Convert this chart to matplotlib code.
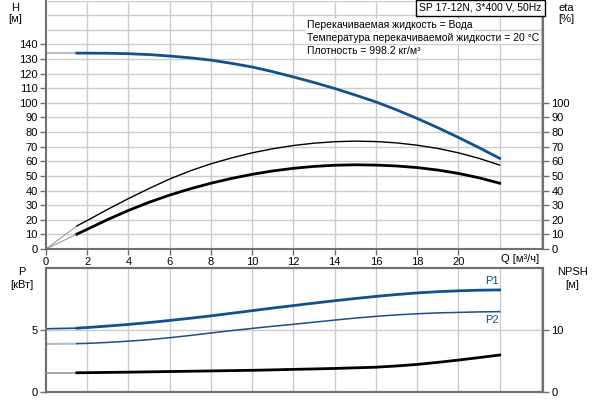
import matplotlib
matplotlib.use("Agg")
import matplotlib.pyplot as plt

plt.rcParams['font.family'] = ['Liberation Sans', 'DejaVu Sans']
plt.rcParams['font.size'] = 8

# ---- data ----
q = [1.5, 2, 3, 4, 5, 6, 7, 8, 9, 10, 11, 12, 13, 14, 15, 16, 17, 18, 19, 20, 21, 22]
q_ext = [0, 1.5]

head = [134, 134, 133.9, 133.6, 133, 132, 130.8, 129.2, 127, 124.5, 121.3, 117.7,
        113.9, 109.8, 105.3, 100.6, 95.2, 89.3, 83, 76.3, 69.3, 62]
head_ext = [134, 134]

eta_pump = [15.8, 19.5, 27.2, 34.5, 41.4, 47.9, 53.5, 58.3, 62.3, 65.8, 68.6, 70.8,
            72.4, 73.4, 73.8, 73.5, 72.6, 71, 68.8, 65.8, 62, 57.4]
eta_pump_ext = [0, 15.8]

eta_total = [10.2, 13.5, 20.2, 26.4, 32, 36.9, 41.2, 45, 48.3, 51.1, 53.4, 55.2, 56.5,
             57.3, 57.6, 57.4, 56.8, 55.7, 54, 51.7, 48.7, 45]
eta_total_ext = [0, 10.2]

p1 = [5.15, 5.2, 5.32, 5.45, 5.6, 5.77, 5.95, 6.14, 6.35, 6.56, 6.77, 6.97, 7.17, 7.36,
      7.54, 7.71, 7.86, 7.99, 8.09, 8.16, 8.21, 8.23]
p1_ext = [5.1, 5.15]

p2 = [3.9, 3.92, 4.0, 4.1, 4.22, 4.38, 4.56, 4.76, 4.95, 5.13, 5.3, 5.46, 5.63, 5.8,
      5.96, 6.1, 6.22, 6.31, 6.38, 6.42, 6.46, 6.48]
p2_ext = [3.87, 3.9]

npsh = [3.1, 3.12, 3.16, 3.2, 3.25, 3.3, 3.35, 3.4, 3.45, 3.5, 3.57, 3.65, 3.72, 3.8,
        3.9, 4.0, 4.2, 4.45, 4.78, 5.15, 5.55, 5.97]
npsh_ext = [3.1, 3.1]

x_ticks = [0, 2, 4, 6, 8, 10, 12, 14, 16, 18, 20]
x_grid = [2, 4, 6, 8, 10, 12, 14, 16, 18, 20, 22, 24]
h_ticks = [0, 10, 20, 30, 40, 50, 60, 70, 80, 90, 100, 110, 120, 130, 140]
h_grid = [10, 20, 30, 40, 50, 60, 70, 80, 90, 100, 110, 120, 130, 140, 150, 160, 170]
eta_ticks = [0, 10, 20, 30, 40, 50, 60, 70, 80, 90, 100]
p_ticks = [0, 5]
p_grid = [5]
npsh_ticks = [0, 10]

title_text = "SP 17-12N, 3*400 V, 50Hz"
info_lines = ["Перекачиваемая жидкость = Вода",
              "Температура перекачиваемой жидкости = 20 °C",
              "Плотность = 998.2 кг/м³"]

BLUE = '#14508c'
EXT = '#b4bccb'
GRID = '#cccccc'
SPINE = '#707070'

W, H = 600, 400
fig = plt.figure(figsize=(6, 4), dpi=100, facecolor='white')

def fx(px):
    return px / W

def fy(py):
    return 1 - py / H

XL, XR = 46, 543
XMAX = 24.1
HMAX = 170

# ---------- top axes ----------
ax = fig.add_axes([fx(XL), fy(249), fx(XR - XL), (249 - 0.5) / H])
for v in x_grid:
    ax.plot([v, v], [0.3, HMAX], color=GRID, lw=1.0, zorder=2.5, solid_capstyle='butt')
for v in h_grid:
    ax.plot([0.05, XMAX - 0.05], [v, v], color=GRID, lw=1.0, zorder=2.5,
            solid_capstyle='butt')

ax.plot(q_ext, head_ext, color=EXT, lw=1.5, zorder=3)
ax.plot(q, head, color=BLUE, lw=2, zorder=4)
ax.plot(q_ext, eta_pump_ext, color='#999999', lw=0.8, zorder=3)
ax.plot(q, eta_pump, color='black', lw=1.0, zorder=4)
ax.plot(q_ext, eta_total_ext, color='#999999', lw=0.8, zorder=3)
ax.plot(q, eta_total, color='black', lw=2.0, zorder=4)
ax.set_xlim(0, XMAX)
ax.set_ylim(0, HMAX)
ax.set_xticks(x_ticks)
ax.set_yticks(h_ticks)
ax.tick_params(axis='both', direction='out', length=4, width=1,
               color=SPINE, pad=2, labelsize=8)

ax.spines['top'].set_visible(False)
for s in ['left', 'bottom', 'right']:
    ax.spines[s].set_color(SPINE)
    ax.spines[s].set_linewidth(1.5)
    ax.spines[s].set_zorder(5)

ax2 = ax.twinx()
ax2.set_ylim(0, HMAX)
ax2.set_yticks(eta_ticks)
ax2.patch.set_visible(False)
ax2.tick_params(axis='y', direction='out', length=4, width=1, color=SPINE, pad=2,
                labelsize=8)
for s in ['top', 'left', 'bottom']:
    ax2.spines[s].set_visible(False)
ax2.spines['right'].set_color(SPINE)
ax2.spines['right'].set_linewidth(1.5)

# ---------- bottom axes ----------
bx = fig.add_axes([fx(XL), fy(392), fx(XR - XL), (392 - 268) / H])
for v in x_grid:
    bx.plot([v, v], [0.02, 10], color=GRID, lw=1.0, zorder=2.5, solid_capstyle='butt')
for v in p_grid:
    bx.plot([0.05, XMAX - 0.05], [v, v], color=GRID, lw=1.0, zorder=2.5,
            solid_capstyle='butt')

bx.plot(q_ext, p1_ext, color=BLUE, lw=1.2, zorder=3)
bx.plot(q, p1, color=BLUE, lw=2, zorder=4)
bx.plot(q_ext, p2_ext, color=EXT, lw=1.5, zorder=3)
bx.plot(q, p2, color=BLUE, lw=1.1, zorder=4)
bx.set_xlim(0, XMAX)
bx.set_ylim(0, 10)
bx.set_xticks([])
bx.set_yticks(p_ticks)
bx.tick_params(axis='y', direction='out', length=4, width=1, color=SPINE, pad=2,
               labelsize=8)
for s in bx.spines.values():
    s.set_color(SPINE)
    s.set_linewidth(1.5)
    s.set_zorder(5)

bx2 = bx.twinx()
bx2.patch.set_visible(False)
bx2.plot(q_ext, npsh_ext, color='#999999', lw=1.2, zorder=3)
bx2.plot(q, npsh, color='black', lw=2, zorder=4)
bx2.set_ylim(0, 20)
bx2.set_yticks(npsh_ticks)
bx2.tick_params(axis='y', direction='out', length=4, width=1, color=SPINE, pad=2,
                labelsize=8)
for s in bx2.spines.values():
    s.set_color(SPINE)
    s.set_linewidth(1.5)

bx.text(q[-1] - 0.4, p1[-1] + 0.3, "P1", color=BLUE, fontsize=8, ha='center', va='bottom',
        zorder=6)
bx.text(q[-1] - 0.4, p2[-1] - 0.3, "P2", color=BLUE, fontsize=8, ha='center', va='top',
        zorder=6)

# ---------- labels ----------
fig.text(fx(15), fy(8), "H", ha='center', va='center', fontsize=8)
fig.text(fx(15), fy(19), "[м]", ha='center', va='center', fontsize=8)
fig.text(fx(566), fy(8), "eta", ha='center', va='center', fontsize=8)
fig.text(fx(566), fy(19), "[%]", ha='center', va='center', fontsize=8)
fig.text(fx(22), fy(272), "P", ha='center', va='center', fontsize=8)
fig.text(fx(22), fy(285), "[кВт]", ha='center', va='center', fontsize=8)
fig.text(fx(572), fy(272), "NPSH", ha='center', va='center', fontsize=8)
fig.text(fx(572), fy(285), "[м]", ha='center', va='center', fontsize=8)
fig.text(fx(520), fy(259), "Q [м³/ч]", ha='center', va='center', fontsize=8)

fig.text(fx(419), fy(8), title_text, ha='left', va='center', fontsize=7.5,
         bbox=dict(boxstyle='square,pad=0.3', fc='white', ec='black', lw=1))
for i, line in enumerate(info_lines):
    fig.text(fx(307), fy(25 + 13 * i), line, ha='left', va='center', fontsize=7.5,
             bbox=dict(boxstyle='square,pad=0.1', fc='white', ec='none'))

fig.savefig("out.png", dpi=100, facecolor='white')
